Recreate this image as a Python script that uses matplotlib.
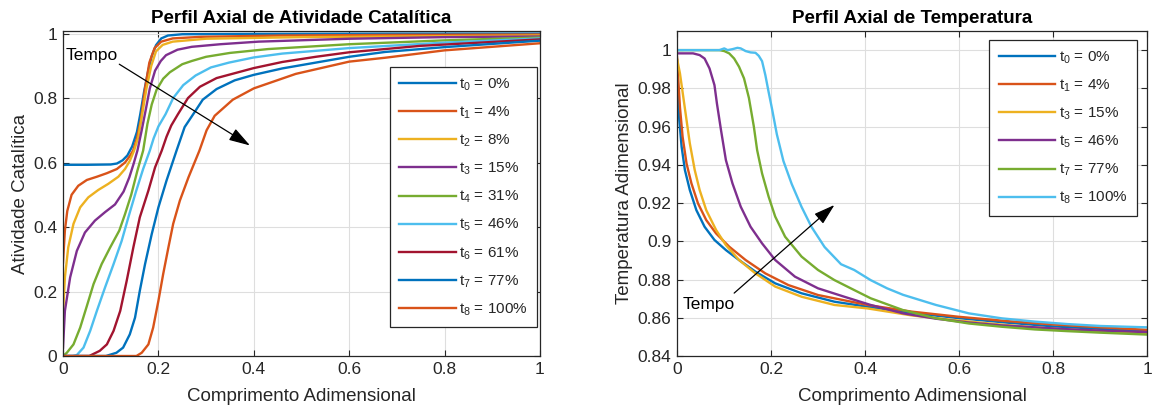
import matplotlib
matplotlib.use('Agg')
import matplotlib.pyplot as plt

plt.rcParams['font.family'] = ['Liberation Sans', 'DejaVu Sans']
plt.rcParams['mathtext.fontset'] = 'custom'
plt.rcParams['mathtext.rm'] = 'Liberation Sans'

# ---------------- data: catalytic activity (left) ----------------
act_labels = ['t_0 = 0%', 't_1 = 4%', 't_2 = 8%', 't_3 = 15%', 't_4 = 31%',
              't_5 = 46%', 't_6 = 61%', 't_7 = 77%', 't_8 = 100%']

act_t0_x = [0, 0.05, 0.10, 0.113, 0.125, 0.135, 0.145, 0.155, 0.162, 0.170, 0.178, 0.186, 0.195, 0.206, 0.22, 0.25, 0.4, 0.7, 1.0]
act_t0_y = [0.593, 0.593, 0.594, 0.597, 0.607, 0.622, 0.650, 0.695, 0.750, 0.820, 0.880, 0.930, 0.964, 0.985, 0.994, 0.998, 0.999, 1.0, 1.0]

act_t1_x = [0, 0.002, 0.004, 0.009, 0.018, 0.032, 0.05, 0.071, 0.092, 0.113, 0.13, 0.14, 0.147, 0.155, 0.163, 0.172, 0.181, 0.192, 0.206, 0.23, 0.29, 0.46, 0.7, 1.0]
act_t1_y = [0.29, 0.34, 0.39, 0.45, 0.50, 0.528, 0.546, 0.556, 0.567, 0.58, 0.60, 0.62, 0.637, 0.675, 0.73, 0.83, 0.91, 0.955, 0.975, 0.985, 0.99, 0.994, 0.996, 0.997]

act_t2_x = [0, 0.004, 0.011, 0.022, 0.036, 0.053, 0.074, 0.095, 0.116, 0.13, 0.14, 0.149, 0.158, 0.166, 0.175, 0.185, 0.195, 0.209, 0.23, 0.3, 0.5, 0.8, 1.0]
act_t2_y = [0.13, 0.244, 0.337, 0.41, 0.461, 0.492, 0.515, 0.534, 0.556, 0.58, 0.605, 0.637, 0.68, 0.75, 0.83, 0.90, 0.945, 0.965, 0.975, 0.984, 0.989, 0.992, 0.994]

act_t3_x = [0, 0.004, 0.015, 0.029, 0.046, 0.067, 0.088, 0.109, 0.127, 0.139, 0.148, 0.156, 0.165, 0.173, 0.182, 0.193, 0.205, 0.216, 0.24, 0.27, 0.33, 0.41, 0.6, 0.8, 1.0]
act_t3_y = [0.026, 0.14, 0.244, 0.326, 0.383, 0.42, 0.446, 0.47, 0.51, 0.554, 0.596, 0.637, 0.70, 0.76, 0.83, 0.885, 0.915, 0.933, 0.950, 0.959, 0.967, 0.975, 0.984, 0.989, 0.991]

act_t4_x = [0, 0.008, 0.022, 0.036, 0.05, 0.064, 0.081, 0.099, 0.118, 0.13, 0.143, 0.156, 0.168, 0.177, 0.186, 0.196, 0.21, 0.224, 0.25, 0.27, 0.3, 0.35, 0.43, 0.6, 0.8, 1.0]
act_t4_y = [0.0, 0.01, 0.036, 0.088, 0.155, 0.223, 0.285, 0.337, 0.389, 0.44, 0.50, 0.575, 0.637, 0.72, 0.78, 0.825, 0.86, 0.88, 0.905, 0.915, 0.928, 0.94, 0.952, 0.967, 0.979, 0.988]

act_t5_x = [0, 0.02, 0.029, 0.043, 0.057, 0.071, 0.088, 0.106, 0.123, 0.137, 0.153, 0.168, 0.182, 0.19, 0.2, 0.215, 0.231, 0.252, 0.278, 0.31, 0.348, 0.4, 0.46, 0.6, 0.8, 1.0]
act_t5_y = [0, 0, 0.003, 0.026, 0.078, 0.14, 0.212, 0.285, 0.357, 0.43, 0.51, 0.58, 0.637, 0.675, 0.712, 0.75, 0.80, 0.84, 0.87, 0.895, 0.91, 0.926, 0.938, 0.955, 0.972, 0.985]

act_t6_x = [0, 0.055, 0.077, 0.092, 0.106, 0.12, 0.1335, 0.1475, 0.161, 0.179, 0.193, 0.207, 0.217, 0.227, 0.241, 0.262, 0.287, 0.322, 0.4, 0.46, 0.53, 0.6, 0.75, 1.0]
act_t6_y = [0, 0, 0.016, 0.036, 0.078, 0.14, 0.233, 0.337, 0.43, 0.513, 0.585, 0.637, 0.68, 0.715, 0.75, 0.80, 0.835, 0.862, 0.893, 0.912, 0.928, 0.942, 0.962, 0.982]

act_t7_x = [0, 0.09, 0.112, 0.126, 0.14, 0.151, 0.161, 0.172, 0.186, 0.2, 0.217, 0.238, 0.255, 0.273, 0.293, 0.322, 0.36, 0.4, 0.46, 0.53, 0.6, 0.675, 0.8, 1.0]
act_t7_y = [0, 0, 0.01, 0.026, 0.067, 0.119, 0.202, 0.285, 0.378, 0.461, 0.544, 0.637, 0.71, 0.75, 0.795, 0.828, 0.855, 0.872, 0.892, 0.91, 0.928, 0.943, 0.958, 0.978]

act_t8_x = [0, 0.154, 0.165, 0.179, 0.189, 0.2, 0.21, 0.221, 0.231, 0.245, 0.263, 0.286, 0.301, 0.318, 0.356, 0.4, 0.488, 0.6, 0.675, 0.8, 1.0]
act_t8_y = [0, 0, 0.01, 0.036, 0.088, 0.171, 0.254, 0.337, 0.41, 0.482, 0.554, 0.637, 0.70, 0.745, 0.795, 0.83, 0.875, 0.913, 0.925, 0.948, 0.97]

act_x = [act_t0_x, act_t1_x, act_t2_x, act_t3_x, act_t4_x, act_t5_x, act_t6_x, act_t7_x, act_t8_x]
act_y = [act_t0_y, act_t1_y, act_t2_y, act_t3_y, act_t4_y, act_t5_y, act_t6_y, act_t7_y, act_t8_y]

# ---------------- data: temperature (right) ----------------
temp_labels = ['t_0 = 0%', 't_1 = 4%', 't_3 = 15%', 't_5 = 46%', 't_7 = 77%', 't_8 = 100%']

temp_t0_x = [0, 0.0014, 0.0049, 0.0098, 0.0168, 0.0273, 0.0412, 0.0587, 0.0797, 0.1041, 0.132, 0.167, 0.209, 0.265, 0.335, 0.405, 0.5, 0.6, 0.7, 0.8, 0.9, 1.0]
temp_t0_y = [0.9948, 0.9791, 0.9634, 0.9495, 0.9373, 0.9268, 0.9163, 0.9076, 0.9007, 0.8954, 0.8902, 0.8841, 0.878, 0.8728, 0.8684, 0.8658, 0.8625, 0.8598, 0.8575, 0.8555, 0.8542, 0.853]

temp_t1_x = [0, 0.0028, 0.0063, 0.0119, 0.0203, 0.0307, 0.0447, 0.0622, 0.0832, 0.111, 0.146, 0.188, 0.237, 0.3, 0.405, 0.5, 0.6, 0.7, 0.8, 0.9, 1.0]
temp_t1_y = [0.9965, 0.9843, 0.970, 0.9547, 0.9407, 0.9303, 0.9198, 0.9111, 0.9041, 0.8972, 0.8902, 0.8832, 0.8771, 0.8719, 0.8667, 0.8632, 0.8605, 0.8583, 0.8565, 0.855, 0.8537]

temp_t3_x = [0, 0.0063, 0.0133, 0.0203, 0.0273, 0.0377, 0.0482, 0.0622, 0.0832, 0.1041, 0.132, 0.167, 0.209, 0.265, 0.335, 0.405, 0.5, 0.6, 0.7, 0.8, 0.9, 1.0]
temp_t3_y = [0.9956, 0.9878, 0.9756, 0.9634, 0.9512, 0.9373, 0.9268, 0.9163, 0.9059, 0.898, 0.8902, 0.8832, 0.8763, 0.871, 0.8667, 0.8649, 0.8612, 0.8585, 0.8562, 0.8543, 0.853, 0.8518]

temp_t5_x = [0, 0.0342, 0.0482, 0.0587, 0.0692, 0.0797, 0.085, 0.0936, 0.104, 0.118, 0.1356, 0.1565, 0.181, 0.209, 0.251, 0.3, 0.356, 0.412, 0.481, 0.551, 0.621, 0.691, 0.761, 0.831, 0.901, 1.0]
temp_t5_y = [0.9983, 0.9983, 0.9974, 0.9956, 0.9904, 0.9817, 0.972, 0.9582, 0.9425, 0.9303, 0.9181, 0.9076, 0.8989, 0.8902, 0.8815, 0.8754, 0.871, 0.8667, 0.8623, 0.8595, 0.8575, 0.856, 0.855, 0.854, 0.8533, 0.8525]

temp_t7_x = [0, 0.09, 0.1006, 0.111, 0.1216, 0.132, 0.1426, 0.153, 0.1635, 0.1705, 0.181, 0.195, 0.209, 0.23, 0.265, 0.3, 0.335, 0.377, 0.412, 0.481, 0.551, 0.621, 0.691, 0.761, 0.831, 0.901, 1.0]
temp_t7_y = [1.0, 1.0, 0.9995, 0.9983, 0.9956, 0.9913, 0.9852, 0.975, 0.96, 0.9477, 0.9355, 0.9233, 0.9129, 0.9024, 0.892, 0.885, 0.8797, 0.8745, 0.8702, 0.864, 0.8597, 0.857, 0.8553, 0.8539, 0.853, 0.8522, 0.8512]

temp_t8_x = [0, 0.09, 0.1006, 0.1076, 0.118, 0.1286, 0.1356, 0.146, 0.1565, 0.167, 0.174, 0.181, 0.188, 0.195, 0.202, 0.2124, 0.2264, 0.244, 0.265, 0.286, 0.314, 0.349, 0.377, 0.412, 0.447, 0.481, 0.551, 0.621, 0.691, 0.761, 0.831, 0.901, 1.0]
temp_t8_y = [1.0, 1.0, 1.0009, 1.0, 1.0005, 1.0012, 1.0009, 0.9995, 0.9988, 0.9986, 0.997, 0.9942, 0.9869, 0.978, 0.9695, 0.956, 0.942, 0.930, 0.918, 0.9076, 0.897, 0.888, 0.885, 0.8797, 0.8754, 0.872, 0.8667, 0.8623, 0.8597, 0.858, 0.8567, 0.8557, 0.855]

temp_x = [temp_t0_x, temp_t1_x, temp_t3_x, temp_t5_x, temp_t7_x, temp_t8_x]
temp_y = [temp_t0_y, temp_t1_y, temp_t3_y, temp_t5_y, temp_t7_y, temp_t8_y]

# ---------------- styling ----------------
C = ['#0072BD', '#D95319', '#EDB120', '#7E2F8E', '#77AC30', '#4DBEEE', '#A2142F']
act_colors = [C[0], C[1], C[2], C[3], C[4], C[5], C[6], C[0], C[1]]
temp_colors = [C[0], C[1], C[2], C[3], C[4], C[5]]
DARK = '#262626'

W, H = 1155, 407
fig = plt.figure(figsize=(W / 100, H / 100), dpi=100)
ax1 = fig.add_axes([63 / W, 1 - 356 / H, 477 / W, 325 / H])
ax2 = fig.add_axes([677 / W, 1 - 356 / H, 470 / W, 325 / H])


def style(ax):
    ax.grid(True, color='#dedede', linewidth=0.8)
    ax.set_axisbelow(True)
    for s in ax.spines.values():
        s.set_color(DARK)
        s.set_linewidth(0.9)
    ax.tick_params(direction='in', top=True, right=True, length=4,
                   width=0.8, colors=DARK, labelsize=12.5, pad=4)
    ax.set_xlim(0, 1)
    ax.set_xticks([0, 0.2, 0.4, 0.6, 0.8, 1.0])
    ax.set_xticklabels(['0', '0.2', '0.4', '0.6', '0.8', '1'])
    ax.set_xlabel('Comprimento Adimensional', fontsize=13.5, color=DARK, labelpad=8)


def leg(ax, anchor):
    lg = ax.legend(loc='upper right', bbox_to_anchor=anchor, borderaxespad=0,
                   fontsize=11, handlelength=3.7, handletextpad=0.25,
                   labelspacing=0.77, borderpad=0.6, fancybox=False,
                   framealpha=1, edgecolor=DARK)
    lg.get_frame().set_linewidth(0.9)
    for t in lg.get_texts():
        t.set_color(DARK)


# left
for xs, ys, c, lab in zip(act_x, act_y, act_colors, act_labels):
    a, b = lab.split(' = ')
    ax1.plot(xs, ys, color=c, lw=1.7, label=r'$\mathregular{' + a + '}$ = ' + b)
style(ax1)
ax1.set_ylim(0, 1.008)
ax1.set_yticks([0, 0.2, 0.4, 0.6, 0.8, 1.0])
ax1.set_yticklabels(['0', '0.2', '0.4', '0.6', '0.8', '1'])
ax1.set_ylabel('Atividade Catalítica', fontsize=13.5, color=DARK, labelpad=3)
ax1.set_title('Perfil Axial de Atividade Catalítica', fontsize=13.5, fontweight='bold', pad=6)
leg(ax1, (0.994, 0.889))
ax1.text(0.006, 0.932, 'Tempo', fontsize=12.5, ha='left', va='center', color='black')
ax1.annotate('', xy=(0.392, 0.653), xytext=(0.118, 0.905),
             arrowprops=dict(arrowstyle='-|>,head_length=1.3,head_width=0.4',
                             color='black', lw=0.9, shrinkA=0, shrinkB=0))

# right
for xs, ys, c, lab in zip(temp_x, temp_y, temp_colors, temp_labels):
    a, b = lab.split(' = ')
    ax2.plot(xs, ys, color=c, lw=1.7, label=r'$\mathregular{' + a + '}$ = ' + b)
style(ax2)
ax2.set_ylim(0.84, 1.01)
yt = [0.84, 0.86, 0.88, 0.90, 0.92, 0.94, 0.96, 0.98, 1.0]
ax2.set_yticks(yt)
ax2.set_yticklabels(['0.84', '0.86', '0.88', '0.9', '0.92', '0.94', '0.96', '0.98', '1'])
ax2.set_ylabel('Temperatura Adimensional', fontsize=13.5, color=DARK, labelpad=3)
ax2.set_title('Perfil Axial de Temperatura', fontsize=13.5, fontweight='bold', pad=6)
leg(ax2, (0.978, 0.972))
ax2.text(0.012, 0.8667, 'Tempo', fontsize=12.5, ha='left', va='center', color='black')
ax2.annotate('', xy=(0.335, 0.919), xytext=(0.1216, 0.8729),
             arrowprops=dict(arrowstyle='-|>,head_length=1.3,head_width=0.4',
                             color='black', lw=0.9, shrinkA=0, shrinkB=0))

fig.savefig('out.png', dpi=100)
